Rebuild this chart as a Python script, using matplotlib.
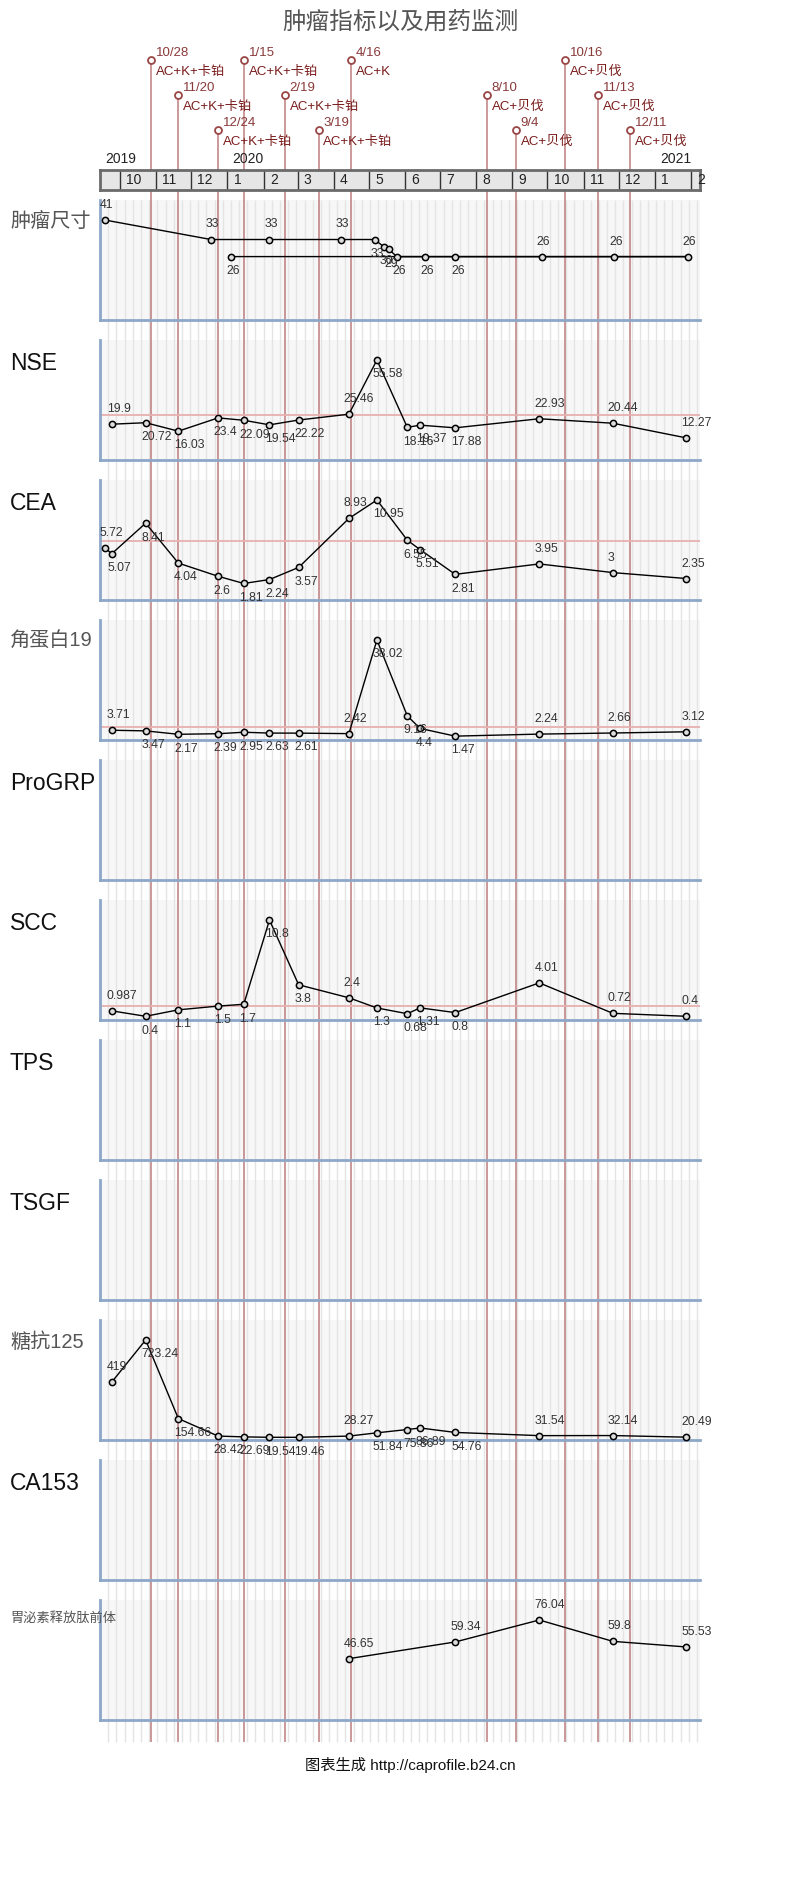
import matplotlib
matplotlib.use('Agg')
import matplotlib.pyplot as plt
import pandas as pd

plt.rcParams['font.family'] = ['Liberation Sans', 'Noto Sans CJK SC']

# ---- 数据 ----
# 血液检查日期
test_dates = pd.to_datetime([
    '2019-09-18', '2019-09-24', '2019-10-23', '2019-11-20', '2019-12-24',
    '2020-01-15', '2020-02-06', '2020-03-02', '2020-04-14', '2020-05-08',
    '2020-06-03', '2020-06-14', '2020-07-14', '2020-09-24', '2020-11-26',
    '2021-01-28'])

# 肿瘤尺寸 (最后一个点日期不按顺序)
size_dates = pd.to_datetime([
    '2019-09-18', '2019-12-18', '2020-02-06', '2020-04-07', '2020-05-06',
    '2020-05-14', '2020-05-18', '2020-05-25', '2020-06-18', '2020-07-14',
    '2020-09-26', '2020-11-27', '2021-01-29', '2020-01-04'])
size_vals = [41, 33, 33, 33, 33, 30, 29, 26, 26, 26, 26, 26, 26, 26]

nse = [19.9, 20.72, 16.03, 23.4, 22.09, 19.54, 22.22, 25.46, 55.58, 18.16,
       19.37, 17.88, 22.93, 20.44, 12.27]
cea = [5.72, 5.07, 8.41, 4.04, 2.6, 1.81, 2.24, 3.57, 8.93, 10.95, 6.55,
       5.51, 2.81, 3.95, 3, 2.35]
cyfra = [3.71, 3.47, 2.17, 2.39, 2.95, 2.63, 2.61, 2.42, 38.02, 9.16, 4.4,
         1.47, 2.24, 2.66, 3.12]
scc = [0.987, 0.4, 1.1, 1.5, 1.7, 10.8, 3.8, 2.4, 1.3, 0.68, 1.31, 0.8,
       4.01, 0.72, 0.4]
ca125 = [419, 723.24, 154.66, 28.42, 22.69, 19.54, 19.46, 28.27, 51.84,
         75.86, 86.89, 54.76, 31.54, 32.14, 20.49]
progrp_dates = pd.to_datetime(['2020-04-14', '2020-07-14', '2020-09-24',
                               '2020-11-26', '2021-01-28'])
progrp = [46.65, 59.34, 76.04, 59.8, 55.53]

panel_names = ['肿瘤尺寸', 'NSE', 'CEA', '角蛋白19', 'ProGRP', 'SCC', 'TPS',
               'TSGF', '糖抗125', 'CA153', '胃泌素释放肽前体']
series = {
    '肿瘤尺寸': (size_dates, size_vals),
    'NSE': (test_dates[1:], nse),
    'CEA': (test_dates, cea),
    '角蛋白19': (test_dates[1:], cyfra),
    'SCC': (test_dates[1:], scc),
    '糖抗125': (test_dates[1:], ca125),
    '胃泌素释放肽前体': (progrp_dates, progrp),
}
ref_limits = {'NSE': 25, 'CEA': 6.5, '角蛋白19': 5, 'SCC': 1.5}

# 用药
tx_dates = pd.to_datetime([
    '2019-10-28', '2019-11-20', '2019-12-24', '2020-01-15', '2020-02-19',
    '2020-03-19', '2020-04-16', '2020-08-10', '2020-09-04', '2020-10-16',
    '2020-11-13', '2020-12-11'])
tx_labels = ['10/28', '11/20', '12/24', '1/15', '2/19', '3/19', '4/16',
             '8/10', '9/4', '10/16', '11/13', '12/11']
tx_drugs = ['AC+K+卡铂'] * 6 + ['AC+K'] + ['AC+贝伐'] * 5

month_starts = pd.date_range('2019-10-01', '2021-02-01', freq='MS')
year_starts = pd.to_datetime(['2020-01-01', '2021-01-01'])

# ---- 布局 (像素) ----
W, H = 800, 1880
X0, X1 = 100, 700
xlim = (pd.Timestamp('2019-09-13 22:00'), pd.Timestamp('2021-02-08 14:00'))
PANEL_TOP, PANEL_H, PANEL_STEP = 200, 120, 140
LINE_END = 1742
tx_levels = [60, 95, 130]


def box(x, y, w, h):
    return [x / W, 1 - (y + h) / H, w / W, h / H]


fig = plt.figure(figsize=(W / 100, H / 100), dpi=100)

# 背景层: 面板底色, 周网格线, 用药竖线
bg = fig.add_axes(box(X0, 0, X1 - X0, H), zorder=0)
bg.set_xlim(xlim)
bg.set_ylim(H, 0)
bg.axis('off')
for k in range(len(panel_names)):
    top = PANEL_TOP + k * PANEL_STEP
    bg.axhspan(top, top + PANEL_H, color='#f7f7f7', lw=0, zorder=0)
weeks = pd.date_range('2019-09-21', xlim[1], freq='7D')
bg.vlines(weeks, PANEL_TOP, LINE_END, color='#e4e4e4', lw=1, zorder=1)

for i, d in enumerate(tx_dates):
    lv = tx_levels[i % 3]
    bg.vlines(d, lv, LINE_END, color='#b06060', lw=1.2, alpha=0.75, zorder=2)
    bg.plot(d, lv, 'o', ms=5, mfc='white', mec='#9a4545', mew=1.3,
            zorder=3, clip_on=False)
    bg.annotate(tx_labels[i], (d, lv), xytext=(3.5, 1), textcoords='offset points',
                ha='left', va='bottom', fontsize=9.5, color='#8a3a3a')
    bg.annotate(tx_drugs[i], (d, lv), xytext=(3.5, -4), textcoords='offset points',
                ha='left', va='top', fontsize=9.5, color='#7a1c1c')

# 月份条
tl = fig.add_axes(box(X0, 170, X1 - X0, 20), zorder=3)
tl.set_xlim(xlim)
tl.set_ylim(0, 1)
tl.set_facecolor('#e6e6e6')
tl.set_xticks([])
tl.set_yticks([])
for s in tl.spines.values():
    s.set_color('#6a6a6a')
    s.set_linewidth(2)
tl.vlines(month_starts, 0, 1, color='#333333', lw=1)
for m in month_starts:
    tl.annotate(str(m.month), (m, 0.5), xytext=(4.5, 0), textcoords='offset points',
                ha='left', va='center', fontsize=10, color='#222')
tl.annotate('2019', (xlim[0], 1), xytext=(4, 3), textcoords='offset points',
            ha='left', va='bottom', fontsize=10, color='#222', annotation_clip=False)
for y in year_starts:
    tl.annotate(str(y.year), (y, 1), xytext=(3.5, 3), textcoords='offset points',
                ha='left', va='bottom', fontsize=10, color='#222', annotation_clip=False)

fig.text(0.5, 1 - 22 / H, '肿瘤指标以及用药监测', ha='center', va='center',
         fontsize=17, color='#555555')

# 各项指标面板
for k, name in enumerate(panel_names):
    top = PANEL_TOP + k * PANEL_STEP
    ax = fig.add_axes(box(X0, top, X1 - X0, PANEL_H), zorder=2)
    ax.patch.set_alpha(0)
    ax.set_xlim(xlim)
    ax.set_xticks([])
    ax.set_yticks([])
    for side in ['top', 'right']:
        ax.spines[side].set_visible(False)
    for side in ['left', 'bottom']:
        ax.spines[side].set_color('#8ca7c7')
        ax.spines[side].set_linewidth(2)

    is_cjk = any(ord(c) > 127 for c in name)
    if name == '胃泌素释放肽前体':
        fs = 9.5
    elif is_cjk:
        fs = 14.5
    else:
        fs = 16.5
    fig.text(10 / W, 1 - (top + 12) / H, name, ha='left', va='top', fontsize=fs,
             color='#555555' if is_cjk else '#111111')

    if name not in series:
        continue
    dates, vals = series[name]
    ax.set_ylim(0, max(vals) * 1.2)
    if name in ref_limits:
        ax.axhline(ref_limits[name], color='#e8b0b0', lw=1.3, zorder=1)
    ax.plot(dates, vals, '-', color='black', lw=1, marker='o', ms=4.5,
            mfc='#dddddd', mec='black', mew=1.1, zorder=3, clip_on=False)
    for i, (d, v) in enumerate(zip(dates, vals)):
        above = i == 0 or (d - dates[i - 1]).days > 35
        if above:
            off, va = (-3.6, 6.5), 'bottom'
        else:
            off, va = (-3, -6), 'top'
        ax.annotate(f'{v:g}', (d, v), xytext=off, textcoords='offset points',
                    ha='left', va=va, fontsize=8.8, color='#333333',
                    annotation_clip=False, zorder=4)

fig.text(410 / W, 1 - 1765 / H, '图表生成 http://caprofile.b24.cn', ha='center',
         va='center', fontsize=11, color='#111111')

fig.savefig('out.png', dpi=100)
